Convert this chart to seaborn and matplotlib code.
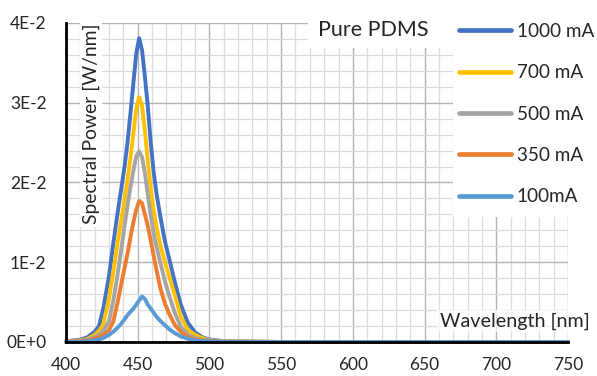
import numpy as np
import pandas as pd
import matplotlib
matplotlib.use("Agg")
import matplotlib.pyplot as plt
from matplotlib.ticker import MultipleLocator, FixedLocator
from matplotlib.patches import Rectangle
import seaborn as sns

# ---------------- data ----------------
wavelength = [400, 410, 415, 420, 423, 426, 430, 433, 436, 439, 441, 443, 445, 447, 449,
              451, 453, 455, 457, 459, 461, 463, 466, 469, 472, 476, 480, 485, 490, 495,
              500, 510, 550, 600, 650, 700, 750]

p1000 = [.0001, .0003, .0006, .0013, .0020, .0042, .0083, .0124, .0162, .0198, .0222, .0252, .0288, .0325, .0362,
         .0381, .0366, .0333, .0296, .0252, .0215, .0187, .0155, .0126, .0104, .0074, .0047, .0024, .0012, .0006,
         .0003, .0001, 0, 0, 0, 0, 0]
p700 = [.0001, .0002, .0004, .0009, .0014, .0022, .0055, .0088, .0125, .0158, .0180, .0205, .0232, .0262, .0293,
        .0307, .0296, .0265, .0228, .0194, .0166, .0145, .0120, .0100, .0082, .0058, .0032, .0015, .0009, .0005,
        .0002, .0001, 0, 0, 0, 0, 0]
p500 = [.0001, .0002, .0003, .0006, .0009, .0014, .0026, .0052, .0085, .0122, .0148, .0172, .0195, .0215, .0233,
        .0239, .0232, .0212, .0185, .0160, .0138, .0120, .0098, .0076, .0058, .0036, .0019, .0009, .0005, .0003,
        .0002, .0001, 0, 0, 0, 0, 0]
p350 = [0, .0001, .0002, .0004, .0006, .0009, .0015, .0026, .0050, .0077, .0094, .0112, .0132, .0150, .0166,
        .0177, .0174, .0160, .0146, .0128, .0109, .0091, .0066, .0048, .0035, .0021, .0013, .0006, .0003, .0002,
        .0001, 0, 0, 0, 0, 0, 0]
p100 = [0, 0, .0001, .0002, .0003, .0005, .0009, .0013, .0018, .0024, .0029, .0034, .0038, .0042, .0047,
        .0052, .0057, .0054, .0047, .0042, .0037, .0032, .0026, .0021, .0016, .0011, .0007, .0004, .0002, .0001,
        .0001, 0, 0, 0, 0, 0, 0]

series_labels = ["1000 mA", "700 mA", "500 mA", "350 mA", "100mA"]
series_values = [p1000, p700, p500, p350, p100]
series_colors = ["#4472C4", "#FFC000", "#A5A5A5", "#ED7D31", "#5B9BD5"]

x_ticks = [400, 450, 500, 550, 600, 650, 700, 750]
y_ticks = [0.0, 0.01, 0.02, 0.03, 0.04]
y_tick_labels = ["0E+0", "1E-2", "2E-2", "3E-2", "4E-2"]

title_text = "Pure PDMS"
x_label = "Wavelength [nm]"
y_label = "Spectral Power [W/nm]"

# ---------------- build long table ----------------
df = pd.concat([pd.DataFrame({"wl": wavelength, "power": v, "current": lab})
                for lab, v in zip(series_labels, series_values)], ignore_index=True)

sns.set_theme(style="white")
plt.rcParams["font.family"] = ["Lato", "DejaVu Sans"]

W, H = 597, 376
fig = plt.figure(figsize=(W / 100, H / 100), dpi=100)
L, R, T, B = 66, 568, 23, 342
ax = fig.add_axes([L / W, 1 - B / H, (R - L) / W, (B - T) / H])

sns.lineplot(data=df, x="wl", y="power", hue="current", hue_order=series_labels,
             palette=series_colors, linewidth=2.8, ax=ax, legend=True, sort=False)
for ln in ax.lines:
    ln.set_clip_on(False)
    ln.set_solid_capstyle("round")
    ln.set_solid_joinstyle("round")

handles, labels = ax.get_legend_handles_labels()
ax.get_legend().remove()

ax.set_xlim(400, 750)
ax.set_ylim(0, 0.04)
ax.xaxis.set_major_locator(FixedLocator(x_ticks))
ax.xaxis.set_minor_locator(MultipleLocator(10))
ax.yaxis.set_major_locator(FixedLocator(y_ticks))
ax.yaxis.set_minor_locator(MultipleLocator(0.002))
ax.set_yticklabels(y_tick_labels)
ax.set_xlabel("")
ax.set_ylabel("")
ax.grid(which="major", color="#b4b4b4", linewidth=1.0)
ax.grid(which="minor", color="#dcdcdc", linewidth=0.9)
ax.set_axisbelow(True)
ax.tick_params(which="both", length=0)
ax.tick_params(axis="y", pad=14, labelsize=12.5, colors="#262626")
ax.tick_params(axis="x", pad=11, labelsize=12.5, colors="#262626")
for s in ["top", "right"]:
    ax.spines[s].set_visible(False)
for s in ["left", "bottom"]:
    ax.spines[s].set_color("black")
    ax.spines[s].set_linewidth(2.0)

# y label inside plot area
ax.text(0.05, 0.997, y_label, transform=ax.transAxes, rotation=90, ha="center", va="top",
        fontsize=13.9, color="#262626",
        bbox=dict(facecolor="white", edgecolor="none", pad=1.5))

# white boxes for title and legend
fig.add_artist(Rectangle((308 / W, 1 - 48 / H), 145 / W, 36 / H, transform=fig.transFigure,
                         facecolor="white", edgecolor="none", zorder=2))
fig.add_artist(Rectangle((453 / W, 1 - 217 / H), 144 / W, 207 / H, transform=fig.transFigure,
                         facecolor="white", edgecolor="none", zorder=2))
fig.text(373 / W, 1 - 30 / H, title_text, ha="center", va="center", fontsize=15.5,
         color="#262626", zorder=3)

fig.text(590 / W, 1 - 321 / H, x_label, ha="right", va="center", fontsize=14.2,
         color="#262626", zorder=3,
         bbox=dict(facecolor="white", edgecolor="none", alpha=0.75, pad=2))

leg = fig.legend(handles, labels, loc="upper left",
                 bbox_to_anchor=(459 / W, 1 - 23 / H), bbox_transform=fig.transFigure,
                 frameon=False, fontsize=13.6, handlelength=2.75, handletextpad=0.3,
                 labelspacing=1.29, borderpad=0, borderaxespad=0)
leg.set_zorder(4)
for h in leg.legend_handles:
    h.set_linewidth(3.4)
for t in leg.get_texts():
    t.set_color("#262626")

fig.savefig("out.png", dpi=100)
